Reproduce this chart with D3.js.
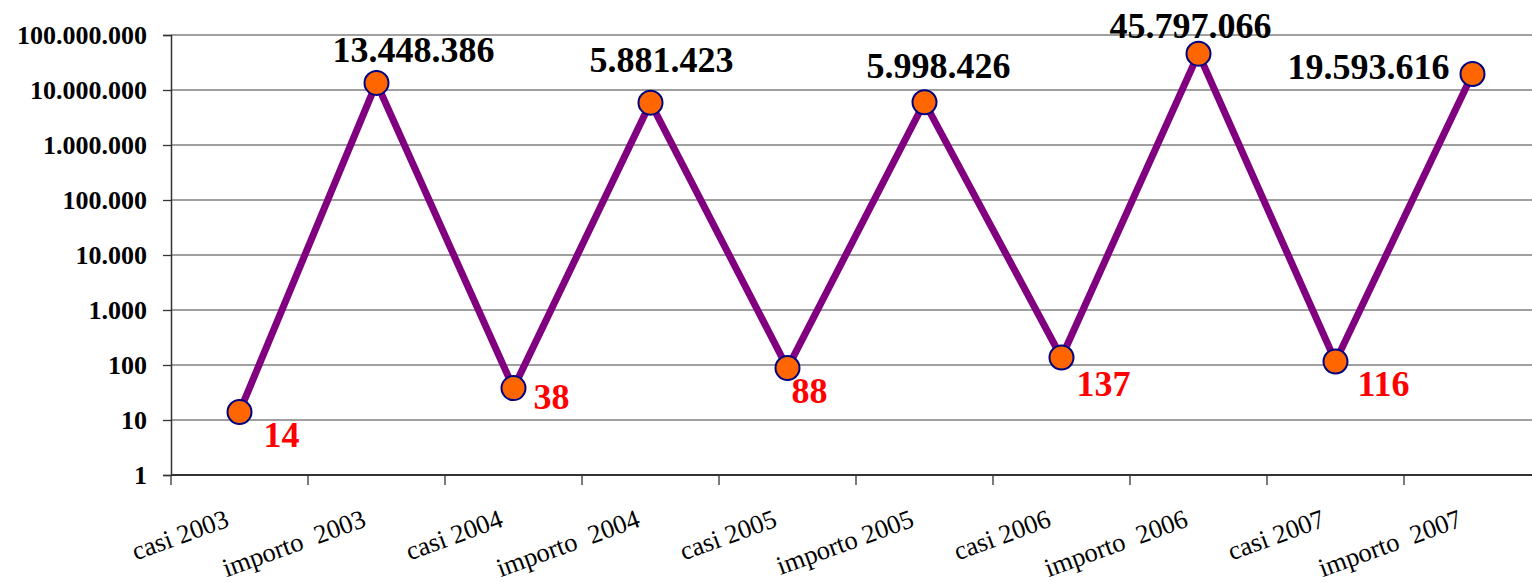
<!DOCTYPE html>
<html>
<head>
<meta charset="utf-8">
<script src="https://cdn.jsdelivr.net/npm/d3@7"></script>
<style>
body{margin:0;background:#fff;}
svg text{font-family:"Liberation Serif","Times New Roman",Times,serif;}
</style>
</head>
<body>
<script>
// data
var categories=["casi 2003","importo  2003","casi 2004","importo  2004","casi 2005",
                "importo 2005","casi 2006","importo  2006","casi 2007","importo  2007"];
var casi=[14,38,88,137,116];
var importo=[13448386,5881423,5998426,45797066,19593616];
var yTicks=[1,10,100,1000,10000,100000,1000000,10000000,100000000];

// label placement (manual, like the excel original)
var labelOffsets=[[24,35],[37,-21],[20,21],[11,-31],[4,35],[14,-24],[15,39],[-8,-16],[22,35],[-104,5]];

var values=[];
casi.forEach(function(c,i){ values.push(c); values.push(importo[i]); });
var data=categories.map(function(c,i){ return {cat:c,val:values[i],off:labelOffsets[i],casi:i%2==0}; });

var width=1532, height=583;
var svg=d3.select("body").append("svg")
          .attr("width",width)
          .attr("height",height);

var x=d3.scaleBand().domain(categories).range([171,1541]);
var y=d3.scaleLog().domain([1,1e8]).range([475,35]);

var it=d3.formatLocale({decimal:",",thousands:".",grouping:[3],currency:["",""]});
var fmt=it.format(",d");

// gridlines
svg.selectAll("line.grid")
   .data(yTicks.slice(1))
   .enter()
   .append("line")
   .attr("x1",171).attr("x2",width)
   .attr("y1",function(d){ return y(d); })
   .attr("y2",function(d){ return y(d); })
   .attr("stroke","#808080")
   .attr("stroke-width",1.3);

// y axis
var yAxis=d3.axisLeft(y).tickValues(yTicks).tickSize(8).tickPadding(16).tickFormat(fmt);
var gy=svg.append("g").attr("transform","translate(171,0)").call(yAxis);
gy.attr("font-family",null);
gy.select(".domain").attr("stroke","#333").attr("stroke-width",1.5);
gy.selectAll(".tick line").attr("stroke","#333").attr("stroke-width",1.3);
gy.selectAll("text")
  .attr("font-weight","bold")
  .attr("font-size",26)
  .attr("dy","0.34em")
  .attr("fill","#000");

// x axis line + ticks at category boundaries
svg.append("line")
   .attr("x1",171).attr("x2",width)
   .attr("y1",y(1)).attr("y2",y(1))
   .attr("stroke","#333").attr("stroke-width",2);
var bounds=categories.map(function(c){ return x(c); });
bounds.push(x.range()[1]);
svg.selectAll("line.xt")
   .data(bounds)
   .enter()
   .append("line")
   .attr("x1",function(d){ return d; })
   .attr("x2",function(d){ return d; })
   .attr("y1",y(1)).attr("y2",y(1)+10)
   .attr("stroke","#333").attr("stroke-width",1.3);

svg.selectAll("text.xl")
   .data(categories)
   .enter()
   .append("text")
   .text(function(d){ return d; })
   .style("white-space","pre")
   .attr("text-anchor","end")
   .attr("transform",function(d){
     return "translate("+(x(d)+x.bandwidth()/2-9)+",526) rotate(-20)";
   })
   .attr("font-size",26.5)
   .attr("fill","#000");

// line
var line=d3.line()
           .x(function(d){ return x(d.cat)+x.bandwidth()/2; })
           .y(function(d){ return y(d.val); });
svg.append("path")
   .datum(data)
   .attr("d",line)
   .attr("fill","none")
   .attr("stroke","#800080")
   .attr("stroke-width",7)
   .attr("stroke-linejoin","miter");

svg.selectAll("circle")
   .data(data)
   .enter()
   .append("circle")
   .attr("cx",function(d){ return x(d.cat)+x.bandwidth()/2; })
   .attr("cy",function(d){ return y(d.val); })
   .attr("r",12)
   .attr("fill","#FF6600")
   .attr("stroke","#000080")
   .attr("stroke-width",2);

// value labels
svg.selectAll("text.vl")
   .data(data)
   .enter()
   .append("text")
   .text(function(d){ return fmt(d.val); })
   .attr("x",function(d){ return x(d.cat)+x.bandwidth()/2+d.off[0]; })
   .attr("y",function(d){ return y(d.val)+d.off[1]; })
   .attr("text-anchor",function(d){ return d.casi ? "start" : "middle"; })
   .attr("fill",function(d){ return d.casi ? "#FF0000" : "#000"; })
   .attr("font-weight","bold")
   .attr("font-size",36);
</script>
</body>
</html>
